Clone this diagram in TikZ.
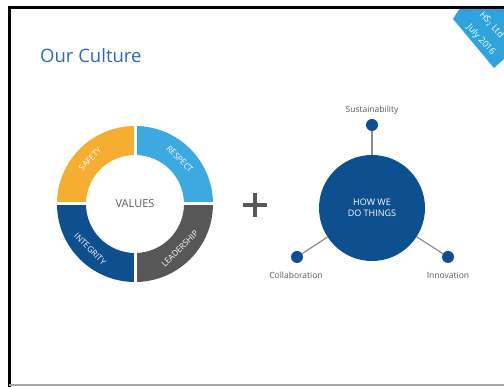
\documentclass[tikz,border=0pt]{standalone}
\usepackage{fontspec}
\usetikzlibrary{calc}
\setmainfont{Open Sans}
\definecolor{safetyc}{HTML}{F5AE32}
\definecolor{respectc}{HTML}{3DA9E1}
\definecolor{integc}{HTML}{0D4F8F}
\definecolor{leadc}{HTML}{575757}
\definecolor{titlec}{HTML}{2B6CAD}
\definecolor{badgec}{HTML}{30A3DD}
\definecolor{txtgray}{HTML}{5A5A5A}
\definecolor{linegray}{HTML}{8C8C8C}
\begin{document}
\begin{tikzpicture}[x=1pt,y=1pt,
  seglabel/.style={text=white,font=\fontsize{8.3}{9}\selectfont,inner sep=0pt},
  smalllabel/.style={text=txtgray,font=\fontsize{8.5}{10}\selectfont,inner sep=0pt},
  dot/.style={circle,fill=integc,minimum size=12pt,inner sep=0pt},
  spoke/.style={draw=linegray,line width=1.2pt},
  badgetext/.style={text=white,font=\fontsize{9}{10}\selectfont,rotate=-48,inner sep=0pt}]
\useasboundingbox (0,0) rectangle (504,387);
\fill[white] (0,0) rectangle (504,387);
% badge
\fill[badgec] (460,379) -- (453,368) -- (494,319) -- (504,328) -- (504,379) -- cycle;
\node[badgetext] (jul) at (481,347) {July 2016};
\node[badgetext,anchor=west] (hs) at (481,374) {HS\textsubscript{2} Ltd};
% frame
\draw[black,line width=3pt] (9,0) -- (9,379) -- (504,379);
\draw[gray!70,line width=2pt] (9,1.5) -- (504,1.5);
% title
\node[anchor=base west,text=titlec,font=\fontsize{18.5}{22}\selectfont,inner sep=0pt] (title) at (40,324) {Our Culture};
% ring
\coordinate (rc) at (135,183);
\fill[respectc] (rc) ++(0:78) arc (0:90:78) -- ++(0,-29) arc (90:0:49) -- cycle;
\fill[safetyc] (rc) ++(90:78) arc (90:180:78) -- ++(29,0) arc (180:90:49) -- cycle;
\fill[integc] (rc) ++(180:78) arc (180:270:78) -- ++(0,29) arc (270:180:49) -- cycle;
\fill[leadc] (rc) ++(270:78) arc (270:360:78) -- ++(-29,0) arc (360:270:49) -- cycle;
\draw[white,line width=3pt] ([xshift=-80pt]rc) -- ([xshift=80pt]rc);
\draw[white,line width=3pt] ([yshift=-80pt]rc) -- ([yshift=80pt]rc);
\node[seglabel,rotate=45] (saf) at ($(rc)+(135:63.5)$) {SAFETY};
\node[seglabel,rotate=-45] (res) at ($(rc)+(45:63.5)$) {RESPECT};
\node[seglabel,rotate=-45] (int) at ($(rc)+(225:63.5)$) {INTEGRITY};
\node[seglabel,rotate=45] (lea) at ($(rc)+(315:63.5)$) {LEADERSHIP};
\node[text=txtgray,font=\fontsize{11}{13}\selectfont] (val) at (rc) {VALUES};
% plus
\node (plus) at (255,182) {};
\draw[leadc,line width=3.5pt] ([xshift=-12pt]plus.center) -- ([xshift=12pt]plus.center);
\draw[leadc,line width=3.5pt] ([yshift=-12pt]plus.center) -- ([yshift=12pt]plus.center);
% how we do things
\node[circle,fill=integc,minimum size=106pt,inner sep=0pt,text=white,align=center,
  font=\fontsize{9}{10.5}\selectfont] (how) at (372,179) {HOW WE\\DO THINGS};
\node[dot] (sus) at (372,262) {};
\node[dot] (col) at (297,130) {};
\node[dot] (inn) at (448,130) {};
\draw[spoke] (sus) -- (how);
\draw[spoke] (col) -- (how);
\draw[spoke] (inn) -- (how);
\node[smalllabel] (sust) at (372,277) {Sustainability};
\node[smalllabel] (colt) at (296,112) {Collaboration};
\node[smalllabel] (innt) at (448,112) {Innovation};
\end{tikzpicture}
\end{document}
